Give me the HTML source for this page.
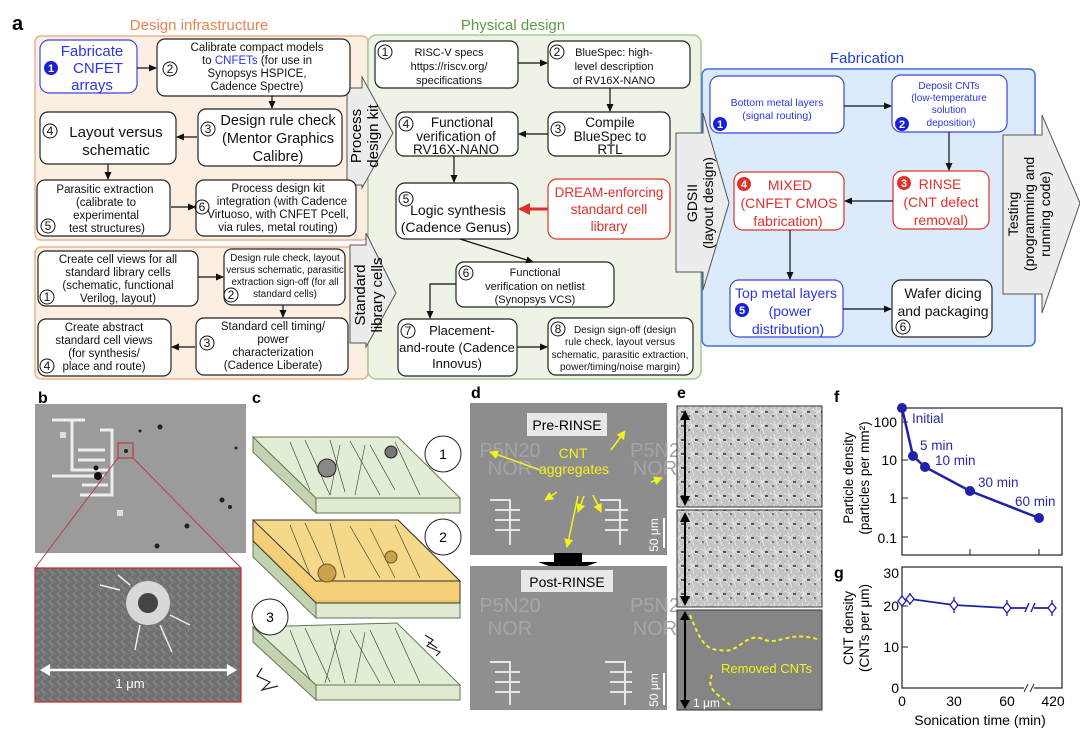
<!DOCTYPE html>
<html><head><meta charset="utf-8"><style>
html,body{margin:0;padding:0;background:#fff}
svg{display:block;font-family:"Liberation Sans",Arial,sans-serif}
</style></head><body>
<svg width="1080" height="730" viewBox="0 0 1080 730" xmlns="http://www.w3.org/2000/svg">
<defs>
<marker id="ah" markerWidth="8" markerHeight="8" refX="7" refY="4" orient="auto" markerUnits="userSpaceOnUse"><path d="M0,0.5 L8,4 L0,7.5 z" fill="#111"/></marker>
<marker id="ar" markerWidth="12" markerHeight="12" refX="10" refY="6" orient="auto" markerUnits="userSpaceOnUse"><path d="M0,0 L12,6 L0,12 z" fill="#e0302a"/></marker>
<marker id="ay" markerWidth="9" markerHeight="9" refX="8" refY="4.5" orient="auto" markerUnits="userSpaceOnUse"><path d="M0,0 L9,4.5 L0,9 z" fill="#f2f21c"/></marker>
<pattern id="tex" width="14" height="14" patternUnits="userSpaceOnUse"><rect width="14" height="14" fill="#c4c4c4"/><path d="M0,3 L14,9 M4,0 L8,14 M0,12 L11,1" stroke="#ececec" stroke-width="0.8"/><rect x="9" y="5" width="3" height="2" fill="#555"/><rect x="2" y="9" width="2" height="2" fill="#777"/></pattern>
<pattern id="tex2" width="8" height="8" patternUnits="userSpaceOnUse"><rect width="8" height="8" fill="#707070"/><path d="M0,2 L8,6 M2,0 L5,8" stroke="#8a8a8a" stroke-width="0.8"/></pattern>
</defs>

<text x="12" y="30" font-size="20" font-weight="bold">a</text>
<text x="199" y="30" font-size="15" fill="#e8844e" text-anchor="middle">Design infrastructure</text>
<text x="513" y="30" font-size="15" fill="#5e9a3f" text-anchor="middle">Physical design</text>
<text x="867" y="63" font-size="15" fill="#1f3fd8" text-anchor="middle">Fabrication</text>

<rect x="35" y="36" width="333" height="204" rx="6" fill="#fcefe2" stroke="#eab48d" stroke-width="1.5"/>
<rect x="35" y="247" width="333" height="132" rx="6" fill="#fcefe2" stroke="#eab48d" stroke-width="1.5"/>
<rect x="368" y="35" width="333" height="344" rx="8" fill="#edf4e6" stroke="#a6c994" stroke-width="1.5"/>
<rect x="702" y="69" width="333" height="277" rx="6" fill="#dcebfb" stroke="#3f6fe0" stroke-width="1.5"/>

<path d="M347,88 H362 V77 L393,133 L362,188 V185 H347 Z" fill="#ececec" stroke="#555" stroke-width="1"/>
<text transform="translate(364,136) rotate(-90)" font-size="15" text-anchor="middle"><tspan x="0" dy="-3">Process</tspan><tspan x="0" dy="17">design kit</tspan></text>
<path d="M350,245 H366 V233 L396,293 L366,347 V343 H350 Z" fill="#ececec" stroke="#555" stroke-width="1"/>
<text transform="translate(368,295) rotate(-90)" font-size="15" text-anchor="middle"><tspan x="0" dy="-3">Standard</tspan><tspan x="0" dy="17">library cells</tspan></text>
<path d="M676,133 H703 V113 L729,203 L703,290 V272 H676 Z" fill="#ececec" stroke="#555" stroke-width="1"/>
<text transform="translate(700,203) rotate(-90)" font-size="14" text-anchor="middle"><tspan x="0" dy="-3">GDSII</tspan><tspan x="0" dy="16">(layout design)</tspan></text>
<path d="M1003,135 H1042 V115 L1080,203 L1042,313 V294 H1003 Z" fill="#ececec" stroke="#555" stroke-width="1"/>
<text transform="translate(1030,214) rotate(-90)" font-size="14" text-anchor="middle"><tspan x="0" dy="-12">Testing</tspan><tspan x="0" dy="16">(programming and</tspan><tspan x="0" dy="16">running code)</tspan></text>

<g stroke="#222" stroke-width="1.2" fill="#fff">
<rect x="40" y="40" width="97" height="53" rx="9" stroke="#3b45e0"/>
<rect x="157" y="39" width="193" height="57" rx="8"/>
<rect x="40" y="112" width="136" height="52" rx="8"/>
<rect x="198" y="109" width="144" height="57" rx="8"/>
<rect x="37" y="180" width="133" height="56" rx="8"/>
<rect x="196" y="180" width="160" height="56" rx="8"/>
<rect x="38" y="251" width="160" height="55" rx="8"/>
<rect x="224" y="249" width="121" height="56" rx="8"/>
<rect x="38" y="319" width="133" height="57" rx="8"/>
<rect x="196" y="318" width="152" height="57" rx="8"/>
<rect x="375" y="41" width="143" height="47" rx="8"/>
<rect x="548" y="41" width="142" height="47" rx="8"/>
<rect x="396" y="112" width="122" height="44" rx="8"/>
<rect x="548" y="112" width="122" height="44" rx="8"/>
<rect x="396" y="183" width="122" height="56" rx="9"/>
<rect x="548" y="179" width="122" height="60" rx="9" stroke="#e0302a"/>
<rect x="456" y="262" width="158" height="45" rx="8"/>
<rect x="398" y="319" width="119" height="57" rx="8"/>
<rect x="548" y="318" width="145" height="57" rx="8"/>
<rect x="710" y="76" width="134" height="57" rx="9" stroke="#3b45e0"/>
<rect x="892" y="75" width="115" height="57" rx="9" stroke="#3b45e0"/>
<rect x="734" y="172" width="110" height="58" rx="9" stroke="#e0302a"/>
<rect x="893" y="171" width="96" height="58" rx="9" stroke="#e0302a"/>
<rect x="730" y="280" width="113" height="57" rx="9" stroke="#3b45e0"/>
<rect x="892" y="280" width="100" height="57" rx="9"/>
</g>

<g fill="none" stroke="#111" stroke-width="1">
<circle cx="170" cy="69" r="7"/><circle cx="50" cy="131" r="7"/><circle cx="208" cy="129" r="7"/>
<circle cx="48" cy="226" r="7"/><circle cx="202" cy="207" r="7"/>
<circle cx="47" cy="297" r="7"/><circle cx="231" cy="295" r="7"/><circle cx="47" cy="366" r="7"/><circle cx="207" cy="343" r="7"/>
<circle cx="385" cy="52" r="7"/><circle cx="557" cy="52" r="7"/><circle cx="406" cy="124" r="7"/><circle cx="558" cy="129" r="7"/>
<circle cx="406" cy="199" r="7"/><circle cx="466" cy="273" r="7"/><circle cx="408" cy="331" r="7"/><circle cx="558" cy="329" r="7"/>
<circle cx="903" cy="327" r="7"/>
</g>
<g font-size="12" text-anchor="middle" fill="#111">
<text x="170" y="73">2</text><text x="50" y="135">4</text><text x="208" y="133">3</text>
<text x="48" y="230">5</text><text x="202" y="211">6</text>
<text x="47" y="301">1</text><text x="231" y="299">2</text><text x="47" y="370">4</text><text x="207" y="347">3</text>
<text x="385" y="56">1</text><text x="557" y="56">2</text><text x="406" y="128">4</text><text x="558" y="133">3</text>
<text x="406" y="203">5</text><text x="466" y="277">6</text><text x="408" y="335">7</text><text x="558" y="333">8</text>
<text x="903" y="331">6</text>
</g>
<circle cx="51" cy="68" r="7" fill="#1820d8"/><text x="51" y="72" font-size="11" font-weight="bold" fill="#fff" text-anchor="middle">1</text>
<circle cx="720" cy="124" r="7" fill="#1820d8"/><text x="720" y="128" font-size="11" font-weight="bold" fill="#fff" text-anchor="middle">1</text>
<circle cx="902" cy="124" r="7" fill="#1820d8"/><text x="902" y="128" font-size="11" font-weight="bold" fill="#fff" text-anchor="middle">2</text>
<circle cx="744" cy="184" r="7" fill="#e0302a"/><text x="744" y="188" font-size="11" font-weight="bold" fill="#fff" text-anchor="middle">4</text>
<circle cx="904" cy="183" r="7" fill="#e0302a"/><text x="904" y="187" font-size="11" font-weight="bold" fill="#fff" text-anchor="middle">3</text>
<circle cx="742" cy="310" r="7" fill="#1820d8"/><text x="742" y="314" font-size="11" font-weight="bold" fill="#fff" text-anchor="middle">5</text>

<g text-anchor="middle" fill="#111">
<text font-size="15" fill="#2a36e0"><tspan x="92" y="56">Fabricate</tspan><tspan x="98" y="73">CNFET</tspan><tspan x="92" y="90">arrays</tspan></text>
<text font-size="11.5"><tspan x="257" y="51">Calibrate compact models</tspan><tspan x="257" y="64">to <tspan fill="#2a36e0">CNFETs</tspan> (for use in</tspan><tspan x="257" y="77">Synopsys HSPICE,</tspan><tspan x="257" y="90">Cadence Spectre)</tspan></text>
<text font-size="15"><tspan x="116" y="137">Layout versus</tspan><tspan x="116" y="155">schematic</tspan></text>
<text font-size="14.5"><tspan x="278" y="125">Design rule check</tspan><tspan x="278" y="143">(Mentor Graphics</tspan><tspan x="278" y="161">Calibre)</tspan></text>
<text font-size="11.5"><tspan x="105" y="193">Parasitic extraction</tspan><tspan x="106" y="206">(calibrate to</tspan><tspan x="106" y="219">experimental</tspan><tspan x="107" y="232">test structures)</tspan></text>
<text font-size="11.5"><tspan x="278" y="192">Process design kit</tspan><tspan x="282" y="205">integration (with Cadence</tspan><tspan x="278" y="218">Virtuoso, with CNFET Pcell,</tspan><tspan x="278" y="231">via rules, metal routing)</tspan></text>
<text font-size="11.5"><tspan x="118" y="263">Create cell views for all</tspan><tspan x="118" y="276">standard library cells</tspan><tspan x="118" y="289">(schematic, functional</tspan><tspan x="118" y="302">Verilog, layout)</tspan></text>
<text font-size="9.8"><tspan x="285" y="261">Design rule check, layout</tspan><tspan x="285" y="273">versus schematic, parasitic</tspan><tspan x="285" y="285">extraction sign-off (for all</tspan><tspan x="285" y="297">standard cells)</tspan></text>
<text font-size="11.5"><tspan x="104" y="331">Create abstract</tspan><tspan x="104" y="344">standard cell views</tspan><tspan x="104" y="357">(for synthesis/</tspan><tspan x="104" y="370">place and route)</tspan></text>
<text font-size="11.5"><tspan x="273" y="330">Standard cell timing/</tspan><tspan x="273" y="343">power</tspan><tspan x="273" y="356">characterization</tspan><tspan x="273" y="369">(Cadence Liberate)</tspan></text>
<text font-size="11"><tspan x="449" y="56">RISC-V specs</tspan><tspan x="449" y="70">https://riscv.org/</tspan><tspan x="449" y="84">specifications</tspan></text>
<text font-size="11"><tspan x="614" y="56">BlueSpec: high-</tspan><tspan x="614" y="70">level description</tspan><tspan x="614" y="84">of RV16X-NANO</tspan></text>
<text font-size="13.5"><tspan x="462" y="127">Functional</tspan><tspan x="456" y="141">verification of</tspan><tspan x="456" y="154">RV16X-NANO</tspan></text>
<text font-size="13.5"><tspan x="610" y="127">Compile</tspan><tspan x="610" y="141">BlueSpec to</tspan><tspan x="610" y="154">RTL</tspan></text>
<text font-size="14"><tspan x="458" y="215">Logic synthesis</tspan><tspan x="456" y="232">(Cadence Genus)</tspan></text>
<text font-size="13.5" fill="#e0302a"><tspan x="609" y="197">DREAM-enforcing</tspan><tspan x="609" y="214">standard cell</tspan><tspan x="609" y="231">library</tspan></text>
<text font-size="11"><tspan x="535" y="276">Functional</tspan><tspan x="535" y="290">verification on netlist</tspan><tspan x="535" y="303">(Synopsys VCS)</tspan></text>
<text font-size="13"><tspan x="462" y="335">Placement-</tspan><tspan x="457" y="352">and-route (Cadence</tspan><tspan x="457" y="368">Innovus)</tspan></text>
<text font-size="10"><tspan x="625" y="333">Design sign-off (design</tspan><tspan x="620" y="345">rule check, layout versus</tspan><tspan x="620" y="358">schematic, parasitic extraction,</tspan><tspan x="620" y="370">power/timing/noise margin)</tspan></text>
<text font-size="10.5" fill="#2a36e0"><tspan x="777" y="106">Bottom metal layers</tspan><tspan x="777" y="119">(signal routing)</tspan></text>
<text font-size="10" fill="#2a36e0"><tspan x="949" y="89">Deposit CNTs</tspan><tspan x="949" y="101">(low-temperature</tspan><tspan x="949" y="113">solution</tspan><tspan x="951" y="126">deposition)</tspan></text>
<text font-size="14" fill="#e0302a"><tspan x="790" y="190">MIXED</tspan><tspan x="789" y="208">(CNFET CMOS</tspan><tspan x="788" y="226">fabrication)</tspan></text>
<text font-size="14" fill="#e0302a"><tspan x="940" y="189">RINSE</tspan><tspan x="941" y="207">(CNT defect</tspan><tspan x="941" y="225">removal)</tspan></text>
<text font-size="14" fill="#2a36e0"><tspan x="786" y="298">Top metal layers</tspan><tspan x="790" y="316">(power</tspan><tspan x="788" y="334">distribution)</tspan></text>
<text font-size="14"><tspan x="943" y="298">Wafer dicing</tspan><tspan x="943" y="316">and packaging</tspan></text>
</g>

<g stroke="#111" stroke-width="1.2" fill="none" marker-end="url(#ah)">
<line x1="137" y1="68" x2="156" y2="68"/>
<line x1="272" y1="96" x2="272" y2="108"/>
<line x1="197" y1="137" x2="177" y2="137"/>
<line x1="108" y1="164" x2="108" y2="179"/>
<line x1="171" y1="207" x2="195" y2="207"/>
<line x1="198" y1="277" x2="223" y2="277"/>
<line x1="283" y1="305" x2="283" y2="317"/>
<line x1="195" y1="347" x2="172" y2="347"/>
<line x1="518" y1="63" x2="547" y2="63"/>
<line x1="610" y1="88" x2="610" y2="111"/>
<line x1="548" y1="134" x2="519" y2="134"/>
<line x1="454" y1="156" x2="454" y2="182"/>
<line x1="460" y1="239" x2="533" y2="262"/>
<polyline points="456,284 430,284 430,318"/>
<line x1="517" y1="347" x2="547" y2="347"/>
<line x1="844" y1="106" x2="891" y2="106"/>
<line x1="949" y1="132" x2="949" y2="170"/>
<line x1="893" y1="201" x2="845" y2="201"/>
<line x1="790" y1="230" x2="790" y2="279"/>
<line x1="843" y1="309" x2="891" y2="309"/>
</g>
<line x1="548" y1="209" x2="520" y2="209" stroke="#e0302a" stroke-width="3" marker-end="url(#ar)"/>

<!-- panel b -->
<text x="38" y="403" font-size="16" font-weight="bold">b</text>
<rect x="35" y="404" width="211" height="149" fill="#9b9b9b"/>
<g fill="none" stroke="#eee" stroke-width="3">
<path d="M52,420 H85 M72,420 V470 H108 M52,476 H105 M100,430 H112 V495 H80 M78,450 H105 M78,460 H105 M82,485 H108"/>
</g>
<rect x="60" y="432" width="6" height="6" fill="#ddd"/><rect x="117" y="510" width="6" height="6" fill="#ddd"/>
<circle cx="98" cy="476" r="4" fill="#111"/><circle cx="96" cy="468" r="2.5" fill="#111"/>
<g fill="#222"><circle cx="160" cy="427" r="2.5"/><circle cx="140" cy="431" r="1.5"/><circle cx="222" cy="500" r="2.5"/><circle cx="230" cy="507" r="2"/><circle cx="187" cy="526" r="2.5"/><circle cx="157" cy="546" r="2.5"/><circle cx="126" cy="451" r="2"/><circle cx="236" cy="448" r="1.5"/></g>
<rect x="118" y="443" width="15" height="15" fill="none" stroke="#c62828" stroke-width="1"/>
<line x1="118" y1="458" x2="35" y2="568" stroke="#b54040" stroke-width="1"/>
<line x1="133" y1="458" x2="241" y2="568" stroke="#b54040" stroke-width="1"/>
<rect x="35" y="568" width="206" height="134" fill="url(#tex2)" stroke="#c62828" stroke-width="1.2"/>
<circle cx="148" cy="603" r="22" fill="#d8d8d8"/>
<circle cx="148" cy="603" r="10" fill="#444"/>
<g stroke="#eee" stroke-width="1.5"><line x1="120" y1="590" x2="100" y2="585"/><line x1="170" y1="615" x2="190" y2="625"/><line x1="140" y1="625" x2="135" y2="650"/><line x1="160" y1="625" x2="172" y2="652"/><line x1="130" y1="585" x2="118" y2="575"/></g>
<line x1="45" y1="670" x2="232" y2="670" stroke="#fff" stroke-width="2.5"/>
<path d="M40,670 L50,664 L50,676 Z M237,670 L227,664 L227,676 Z" fill="#fff"/>
<text x="130" y="688" font-size="13" fill="#fff" text-anchor="middle">1 μm</text>

<!-- panel c -->
<text x="252" y="403" font-size="16" font-weight="bold">c</text>
<g stroke="#667755" stroke-width="1">
<path d="M253,437 L316,498 L316,513 L253,452 Z" fill="#c3d3b0"/>
<path d="M316,498 L460,498 L460,513 L316,513 Z" fill="#dfead0"/>
<path d="M253,437 L398,437 L460,498 L316,498 Z" fill="#e1edd5"/>
<path d="M253,540 L316,601 L316,618 L253,557 Z" fill="#c3d3b0"/>
<path d="M316,601 L460,601 L460,618 L316,618 Z" fill="#dfead0"/>
<path d="M253,520 L398,520 L460,581 L460,603 L316,603 L253,541 Z" fill="#f3c760" fill-opacity="0.85" stroke="#333"/>
<path d="M253,520 L398,520 L460,581 L316,581 Z" fill="#f6d88a" stroke="#333"/>
<path d="M253,627 L316,685 L316,700 L253,642 Z" fill="#c3d3b0"/>
<path d="M316,685 L460,685 L460,700 L316,700 Z" fill="#dfead0"/>
<path d="M253,627 L397,623 L460,685 L316,685 Z" fill="#e1edd5"/>
</g>
<g stroke="#333" stroke-width="0.6">
<path d="M290,442 L310,490 M305,440 L330,495 M330,440 L345,492 M350,441 L380,495 M370,445 L395,490 M395,442 L420,495 M340,445 L330,495 M365,445 L355,495"/>
<path d="M290,525 L310,575 M305,523 L330,578 M330,523 L345,578 M350,526 L380,578 M370,528 L395,578 M395,525 L420,578"/>
<path d="M290,630 L310,680 M305,628 L330,682 M330,628 L345,683 M350,630 L380,683 M370,630 L395,683 M395,628 L420,683 M340,630 L325,683 M365,632 L355,683"/>
</g>
<circle cx="327" cy="468" r="9" fill="#888" stroke="#222"/><circle cx="391" cy="452" r="6" fill="#777" stroke="#222"/>
<circle cx="327" cy="573" r="9" fill="#c9a24a" stroke="#6b5520"/><circle cx="391" cy="557" r="6" fill="#c9a24a" stroke="#6b5520"/>
<g fill="#fff" stroke="#222" stroke-width="1"><circle cx="443" cy="454" r="18"/><circle cx="443" cy="537" r="18"/><circle cx="270" cy="617" r="18"/></g>
<g font-size="14" text-anchor="middle"><text x="443" y="459">1</text><text x="443" y="542">2</text><text x="270" y="622">3</text></g>
<path d="M425,635 L433,640 L427,646 L440,652 L436,656 M428,642 L437,648" stroke="#222" fill="none" stroke-width="1.2"/>
<path d="M262,668 L257,676 L270,682 L262,690 L278,686" stroke="#222" fill="none" stroke-width="1.2"/>

<!-- panel d -->
<text x="471" y="398" font-size="16" font-weight="bold">d</text>
<rect x="470" y="403" width="197" height="152" fill="#8d8d8d"/>
<rect x="527" y="413" width="80" height="23" fill="#e8e8e8"/>
<text x="567" y="430" font-size="14" text-anchor="middle">Pre-RINSE</text>
<g font-size="20" fill="#a4a4a4" text-anchor="middle"><text x="510" y="457">P5N20</text><text x="510" y="475">NOR</text><text x="655" y="457">P5N2</text><text x="655" y="475">NOR</text></g>
<g stroke="#e6e6e6" stroke-width="2" fill="none"><path d="M490,500 H510 V545 M495,510 H520 M495,520 H520 M495,530 H520 M600,500 H620 V545 M605,510 H628 M605,520 H628 M605,530 H628"/></g>
<text x="573" y="458" font-size="14" fill="#f2f21c" text-anchor="middle">CNT</text>
<text x="574" y="474" font-size="14" fill="#f2f21c" text-anchor="middle">aggregates</text>
<g stroke="#f2f21c" stroke-width="1.5" marker-end="url(#ay)"><line x1="540" y1="470" x2="490" y2="452"/><line x1="611" y1="450" x2="625" y2="431"/><line x1="651" y1="482" x2="662" y2="478"/><line x1="557" y1="492" x2="545" y2="500"/><line x1="578" y1="496" x2="567" y2="547"/><line x1="584" y1="496" x2="578" y2="512"/><line x1="593" y1="495" x2="601" y2="512"/></g>
<line x1="664" y1="518" x2="664" y2="548" stroke="#fff" stroke-width="2"/>
<text transform="translate(658,535) rotate(-90)" font-size="12" fill="#fff" text-anchor="middle">50 μm</text>
<path d="M554,553 H582 V562 H598 L568,573 L538,562 H554 Z" fill="#000"/>
<rect x="470" y="566" width="197" height="144" fill="#8f8f8f"/>
<rect x="521" y="570" width="92" height="22" fill="#e8e8e8"/>
<text x="567" y="587" font-size="14" text-anchor="middle">Post-RINSE</text>
<g font-size="20" fill="#a6a6a6" text-anchor="middle"><text x="510" y="612">P5N20</text><text x="510" y="635">NOR</text><text x="655" y="612">P5N2</text><text x="655" y="635">NOR</text></g>
<g stroke="#e6e6e6" stroke-width="2" fill="none"><path d="M490,662 H510 V705 M495,672 H520 M495,682 H520 M495,692 H520 M605,662 H625 V705 M610,672 H632 M610,682 H632 M610,692 H632"/></g>
<line x1="664" y1="673" x2="664" y2="705" stroke="#fff" stroke-width="2"/>
<text transform="translate(658,690) rotate(-90)" font-size="12" fill="#fff" text-anchor="middle">50 μm</text>

<!-- panel e -->
<text x="677" y="398" font-size="16" font-weight="bold">e</text>
<rect x="677" y="406" width="145" height="101" fill="url(#tex)" stroke="#333"/>
<rect x="677" y="510" width="145" height="97" fill="url(#tex)" stroke="#333"/>
<rect x="677" y="610" width="145" height="100" fill="#858585" stroke="#333"/>
<g stroke="#000" stroke-width="2"><line x1="685" y1="418" x2="685" y2="500"/><line x1="685" y1="516" x2="685" y2="600"/><line x1="685" y1="614" x2="685" y2="706"/></g>
<g fill="#000"><path d="M680,420 L685,410 L690,420 Z M680,496 L685,506 L690,496 Z M680,522 L685,512 L690,522 Z M680,596 L685,606 L690,596 Z M680,620 L685,611 L690,620 Z M680,700 L685,709 L690,700 Z"/></g>
<path d="M690,615 C700,640 705,650 720,650 C740,655 745,630 765,640 C780,645 790,630 820,640 M712,675 C705,690 720,695 730,705" stroke="#f2f21c" stroke-width="2" stroke-dasharray="4,3" fill="none"/>
<text x="721" y="673" font-size="13" fill="#f2f21c">Removed CNTs</text>
<text x="693" y="707" font-size="12" fill="#fff">1 μm</text>

<!-- panel f -->
<text x="834" y="402" font-size="16" font-weight="bold">f</text>
<rect x="902" y="408" width="160" height="147" fill="none" stroke="#222" stroke-width="1.2"/>
<g font-size="14" text-anchor="end"><text x="897" y="427">100</text><text x="897" y="465">10</text><text x="897" y="503">1</text><text x="897" y="543">0.1</text></g>
<g stroke="#222"><line x1="902" y1="422" x2="908" y2="422"/><line x1="902" y1="460" x2="908" y2="460"/><line x1="902" y1="498" x2="908" y2="498"/><line x1="902" y1="537" x2="908" y2="537"/><line x1="970" y1="555" x2="970" y2="549"/><line x1="1039" y1="555" x2="1039" y2="549"/></g>
<text transform="translate(853,478) rotate(-90)" font-size="13.5" text-anchor="middle"><tspan x="0" dy="0">Particle density</tspan><tspan x="0" dy="16">(particles per mm²)</tspan></text>
<polyline points="902,408 913,456 925,467 970,491 1039,518" fill="none" stroke="#2020a8" stroke-width="2.5"/>
<g fill="#2020a8"><circle cx="902" cy="408" r="5"/><circle cx="913" cy="456" r="5"/><circle cx="925" cy="467" r="5"/><circle cx="970" cy="491" r="5"/><circle cx="1039" cy="518" r="5"/></g>
<g font-size="13.5" fill="#2a2aa8"><text x="912" y="423">Initial</text><text x="920" y="450">5 min</text><text x="935" y="465">10 min</text><text x="978" y="487">30 min</text><text x="1015" y="506">60 min</text></g>

<!-- panel g -->
<text x="834" y="578" font-size="16" font-weight="bold">g</text>
<rect x="902" y="567" width="160" height="121" fill="none" stroke="#222" stroke-width="1.2"/>
<g font-size="14" text-anchor="end"><text x="899" y="578">30</text><text x="899" y="611">20</text><text x="899" y="652">10</text><text x="899" y="693">0</text></g>
<g stroke="#222"><line x1="902" y1="606" x2="908" y2="606"/><line x1="902" y1="647" x2="908" y2="647"/></g>
<rect x="1024" y="684" width="10" height="8" fill="#fff"/>
<path d="M1024,692 L1028,684 M1030,692 L1034,684" stroke="#222"/>
<text transform="translate(853,628) rotate(-90)" font-size="13.5" text-anchor="middle"><tspan x="0" dy="0">CNT density</tspan><tspan x="0" dy="16">(CNTs per μm)</tspan></text>
<g font-size="14" text-anchor="middle"><text x="902" y="706">0</text><text x="954" y="706">30</text><text x="1007" y="706">60</text><text x="1053" y="706">420</text></g>
<text x="980" y="725" font-size="14" text-anchor="middle">Sonication time (min)</text>
<polyline points="902,601 910,599 954,605 1007,608 1052,608" fill="none" stroke="#2020a8" stroke-width="1.8"/>
<rect x="1026" y="603" width="8" height="10" fill="#fff"/>
<path d="M1025,612 L1029,603 M1031,612 L1035,603" stroke="#2020a8" stroke-width="1.5"/>
<g stroke="#2020a8" fill="#fff" stroke-width="1.3">
<path d="M902,595 V607 M910,593 V605 M954,597 V613 M1007,600 V616 M1052,600 V616"/>
<path d="M902,596 L906,601 L902,606 L898,601 Z M910,594 L914,599 L910,604 L906,599 Z M954,600 L958,605 L954,610 L950,605 Z M1007,603 L1011,608 L1007,613 L1003,608 Z M1052,603 L1056,608 L1052,613 L1048,608 Z"/>
</g>
</svg>
</body></html>
